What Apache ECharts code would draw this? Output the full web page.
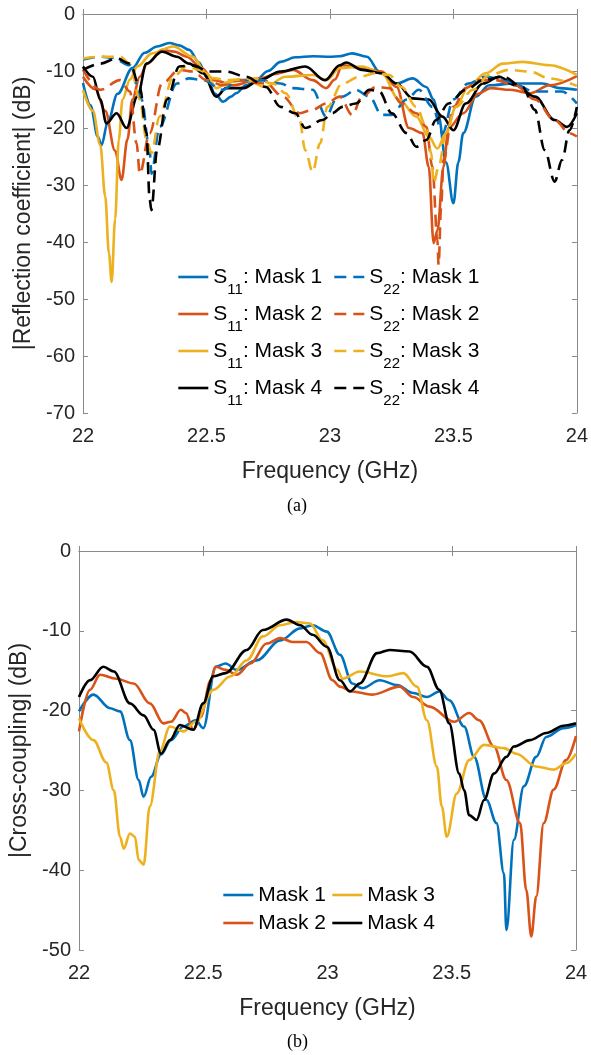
<!DOCTYPE html>
<html>
<head>
<meta charset="utf-8">
<script src="https://cdn.jsdelivr.net/npm/echarts@6/dist/echarts.min.js"></script>
<style>
  html, body { margin: 0; padding: 0; background: #fff; }
  #main { width: 591px; height: 1055px; }
</style>
</head>
<body>
<div id="main"></div>
<script>
// (a) reflection coefficient, [GHz, dB]
const s11Mask1 = [[22.0,-12.1],[22.03,-16],[22.06,-21.5],[22.075,-23],[22.1,-19],[22.14,-14],[22.2,-9.5],[22.25,-6.8],[22.3,-5.7],[22.35,-5.1],[22.39,-5.5],[22.43,-6.3],[22.47,-8.5],[22.5,-11],[22.535,-14],[22.567,-15.4],[22.6,-14.5],[22.62,-13.9],[22.66,-12.5],[22.7,-11.6],[22.75,-10],[22.8,-8.4],[22.86,-7.6],[22.93,-7.4],[23.0,-7.5],[23.04,-7.4],[23.09,-6.9],[23.15,-7.5],[23.2,-10.1],[23.27,-12.2],[23.335,-11.3],[23.39,-12.8],[23.42,-15],[23.44,-18],[23.47,-26],[23.5,-33.2],[23.52,-26],[23.54,-20.9],[23.59,-14.5],[23.645,-12.5],[23.75,-12.2],[23.86,-12.2],[23.93,-13],[24.0,-13.3]];
const s11Mask2 = [[22.0,-11],[22.05,-13.2],[22.09,-17],[22.13,-24],[22.156,-29.1],[22.18,-22],[22.2,-15],[22.23,-11],[22.26,-8.7],[22.32,-6.3],[22.37,-6.6],[22.42,-7.5],[22.48,-9.5],[22.53,-11.6],[22.61,-12.5],[22.72,-11.3],[22.78,-10.5],[22.85,-9.8],[22.93,-11.6],[22.985,-13],[23.02,-11.5],[23.05,-9],[23.13,-9.5],[23.21,-10.1],[23.27,-12.8],[23.32,-20],[23.375,-20.9],[23.4,-26.8],[23.42,-40.2],[23.435,-38],[23.46,-26.8],[23.48,-20],[23.54,-17.4],[23.6,-14],[23.65,-13],[23.73,-13.3],[23.81,-13.9],[23.89,-12.5],[24.0,-10.9]];
const s11Mask3 = [[22.0,-13.3],[22.04,-17],[22.07,-23],[22.09,-32],[22.105,-42],[22.116,-47],[22.13,-36],[22.145,-22],[22.16,-15],[22.19,-11.5],[22.22,-9.2],[22.28,-6.9],[22.365,-5.7],[22.445,-7.5],[22.5,-10.4],[22.54,-13],[22.59,-11.9],[22.66,-11.6],[22.74,-12.8],[22.82,-11],[22.93,-10.7],[22.985,-11.6],[23.04,-9.5],[23.13,-9.2],[23.21,-10.4],[23.28,-15],[23.35,-18],[23.4,-21.5],[23.435,-23.6],[23.47,-20.9],[23.51,-16.3],[23.56,-12.8],[23.63,-10.4],[23.7,-8.7],[23.78,-8.4],[23.89,-9],[24.0,-10.7]];
const s11Mask4 = [[22.0,-9.2],[22.04,-11],[22.07,-15],[22.095,-19.2],[22.136,-17.4],[22.176,-20],[22.22,-14.5],[22.257,-8.7],[22.32,-6.6],[22.38,-7.5],[22.43,-8.7],[22.486,-10.4],[22.54,-14.5],[22.58,-13],[22.65,-13],[22.715,-11.6],[22.8,-10.1],[22.9,-9.2],[22.98,-11.6],[23.04,-9],[23.065,-8.5],[23.13,-9.8],[23.21,-10.4],[23.27,-12.2],[23.335,-14.8],[23.4,-15],[23.456,-18],[23.5,-20.4],[23.55,-15.7],[23.62,-12.2],[23.685,-11],[23.75,-12.5],[23.83,-14.5],[23.91,-18.6],[23.96,-19.8],[24.0,-17.4]];
const s22Mask1 = [[22.0,-8],[22.07,-7.5],[22.12,-7.7],[22.19,-9],[22.237,-15],[22.27,-23.9],[22.277,-28],[22.31,-19.8],[22.38,-12.2],[22.43,-11.3],[22.486,-11.6],[22.565,-13.3],[22.63,-11.6],[22.715,-11.6],[22.8,-12.2],[22.85,-13],[22.93,-13.3],[22.985,-18],[23.025,-15],[23.05,-14.5],[23.105,-13.3],[23.16,-14.5],[23.21,-17.7],[23.25,-17.7],[23.31,-15],[23.36,-13.3],[23.415,-16.3],[23.456,-20.9],[23.5,-15],[23.56,-12.2],[23.63,-11],[23.725,-11.9],[23.83,-13.6],[23.94,-13.6],[24.0,-15.7]];
const s22Mask2 = [[22.0,-9.8],[22.07,-13.3],[22.15,-11.6],[22.19,-13.6],[22.217,-22.7],[22.23,-28],[22.27,-20.9],[22.32,-12.2],[22.39,-9.8],[22.445,-10.1],[22.5,-11.6],[22.567,-12.5],[22.63,-11.6],[22.74,-12.2],[22.81,-14.5],[22.877,-17.4],[22.93,-16.8],[22.985,-15.7],[23.04,-14.5],[23.09,-17.7],[23.13,-14.5],[23.186,-12.8],[23.24,-13],[23.29,-15.7],[23.35,-17.4],[23.39,-19.8],[23.415,-26.8],[23.435,-39.6],[23.44,-44],[23.45,-34],[23.46,-25.6],[23.5,-16.3],[23.55,-13],[23.6,-11.6],[23.67,-11.6],[23.75,-12.5],[23.83,-15],[23.91,-18.6],[23.97,-20.9],[24.0,-21.5]];
const s22Mask3 = [[22.0,-7.8],[22.07,-7.5],[22.15,-7.5],[22.19,-8.7],[22.23,-15],[22.257,-22],[22.277,-24.4],[22.31,-18],[22.365,-11],[22.42,-9.2],[22.47,-9.8],[22.53,-11.3],[22.59,-11.6],[22.69,-11.3],[22.77,-12.2],[22.82,-13.9],[22.877,-18.6],[22.9,-23.9],[22.93,-27.7],[22.96,-22.7],[22.99,-16.3],[23.05,-12.2],[23.12,-11],[23.186,-10.4],[23.24,-10.7],[23.29,-12.8],[23.35,-16.3],[23.39,-19.8],[23.41,-24.4],[23.42,-29.7],[23.44,-26.8],[23.47,-20.9],[23.51,-16.3],[23.58,-13.3],[23.645,-10.7],[23.725,-9.8],[23.81,-10.1],[23.89,-11.3],[24.0,-12.6]];
const s22Mask4 = [[22.0,-9.8],[22.07,-8.7],[22.136,-7.8],[22.19,-8.7],[22.23,-12.8],[22.257,-20.9],[22.27,-32.6],[22.277,-34.4],[22.3,-23.9],[22.34,-15],[22.39,-9.2],[22.445,-9],[22.51,-10.1],[22.58,-10.1],[22.66,-11],[22.74,-12.8],[22.8,-16.3],[22.86,-17.4],[22.9,-20],[22.97,-18.6],[23.01,-17.4],[23.05,-16.3],[23.105,-15.7],[23.16,-13.3],[23.2,-13.6],[23.25,-17.4],[23.31,-20.9],[23.35,-23.3],[23.39,-22.1],[23.43,-18.6],[23.48,-15.7],[23.55,-13.3],[23.62,-11.6],[23.7,-11],[23.78,-12.8],[23.83,-16.8],[23.87,-23.9],[23.91,-29.4],[23.94,-25.6],[23.97,-20.4],[24.0,-16.3]];

// (b) cross-coupling, [GHz, dB]
const ccMask1 = [[22.0,-20.1],[22.058,-18],[22.125,-19.7],[22.165,-20.1],[22.205,-23.7],[22.24,-28.7],[22.26,-30.8],[22.29,-28.3],[22.33,-25.5],[22.37,-23.7],[22.42,-22],[22.47,-21.2],[22.5,-22.2],[22.55,-14.5],[22.59,-14.1],[22.635,-14.9],[22.715,-13.7],[22.81,-11.2],[22.89,-9.7],[22.94,-9.3],[22.997,-10.1],[23.05,-13],[23.1,-16.6],[23.14,-17.2],[23.21,-16.2],[23.28,-16.8],[23.345,-17.8],[23.4,-18.3],[23.45,-17.6],[23.49,-18.7],[23.55,-22],[23.59,-25.8],[23.64,-31.2],[23.68,-34.1],[23.71,-40.4],[23.72,-47.5],[23.75,-36.2],[23.79,-29.5],[23.84,-25.8],[23.88,-23.3],[23.95,-22.2],[24.0,-21.8]];
const ccMask2 = [[22.0,-22.6],[22.044,-17.4],[22.085,-15.5],[22.15,-16],[22.22,-16.6],[22.285,-19.1],[22.34,-21.6],[22.37,-21.4],[22.41,-19.9],[22.43,-20.3],[22.46,-22.4],[22.49,-20.8],[22.53,-16.2],[22.55,-14.5],[22.59,-14.9],[22.635,-15.5],[22.69,-14.1],[22.755,-11.6],[22.81,-10.9],[22.86,-11.4],[22.915,-11.4],[22.97,-12.8],[23.02,-16.2],[23.05,-17],[23.1,-17.6],[23.18,-18],[23.29,-17],[23.345,-18.3],[23.41,-19.5],[23.51,-21.4],[23.57,-20.3],[23.61,-21.2],[23.67,-24.5],[23.72,-28.7],[23.775,-34.1],[23.8,-42.5],[23.82,-48.3],[23.84,-43.3],[23.87,-34.1],[23.91,-29.9],[23.96,-26.2],[24.0,-23.2]];
const ccMask3 = [[22.0,-21],[22.058,-23.7],[22.11,-26.5],[22.14,-30],[22.165,-35.8],[22.18,-37.3],[22.205,-35.4],[22.225,-35.8],[22.24,-38.7],[22.26,-39.3],[22.285,-32],[22.326,-25],[22.366,-22],[22.42,-22.6],[22.47,-21.4],[22.54,-17.4],[22.61,-15.7],[22.675,-13.7],[22.74,-10.7],[22.81,-9.3],[22.876,-8.9],[22.93,-9.1],[22.98,-11.2],[23.04,-14.9],[23.06,-16],[23.13,-15.1],[23.24,-15.7],[23.305,-15.3],[23.36,-17],[23.4,-21.2],[23.44,-27],[23.46,-32],[23.48,-35.8],[23.52,-30.4],[23.57,-26.2],[23.63,-24.3],[23.71,-24.7],[23.76,-25.4],[23.84,-27],[23.91,-27.4],[23.96,-26.6],[24.0,-25.4]];
const ccMask4 = [[22.0,-18.3],[22.044,-16.2],[22.098,-14.5],[22.14,-15.1],[22.205,-19.1],[22.26,-20.6],[22.3,-22.4],[22.33,-25.4],[22.366,-23.7],[22.406,-21.8],[22.46,-22.4],[22.5,-19.1],[22.54,-15.7],[22.59,-15.3],[22.675,-12.4],[22.74,-9.9],[22.836,-8.6],[22.89,-9.3],[22.94,-10.5],[22.997,-12],[23.05,-16.2],[23.09,-17.6],[23.13,-16.6],[23.2,-12.8],[23.25,-12.4],[23.33,-12.6],[23.4,-14.5],[23.45,-17.4],[23.49,-21.6],[23.53,-27.9],[23.55,-30],[23.57,-33.1],[23.6,-33.7],[23.63,-31.2],[23.67,-27.9],[23.72,-25.8],[23.75,-24.5],[23.815,-23.7],[23.88,-22.8],[23.95,-21.9],[24.0,-21.6]];

const xTicks = [22, 22.5, 23, 23.5, 24];
const colors = ["#0072BD", "#D95319", "#EDB120", "#000000"];
const font = "Liberation Sans";
const axisGray = "#8a8a8a";
const textColor = "#262626";
const dash = [12, 7];

let chartDom = document.getElementById("main");
let myChart = echarts.init(chartDom, null, { renderer: "canvas" });

function xAxisCfg(grid, showLabel, name) {
  return {
    type: "value", gridIndex: grid, min: xTicks[0], max: xTicks[xTicks.length - 1], interval: 0.5,
    position: showLabel ? "bottom" : "top",
    name: showLabel ? name : "", nameLocation: "middle", nameGap: 47,
    nameTextStyle: { fontFamily: font, fontSize: 23, color: textColor },
    axisLine: { show: true, lineStyle: { color: axisGray, width: 1 } },
    axisTick: { show: true, inside: true, length: 5, lineStyle: { color: axisGray } },
    axisLabel: { show: showLabel, margin: 13, fontFamily: font, fontSize: 20, color: textColor },
    splitLine: { show: false },
  };
}
function yAxisCfg(grid, min, showLabel, name, gap) {
  return {
    type: "value", gridIndex: grid, min: min, max: 0, interval: 10,
    position: showLabel ? "left" : "right",
    name: showLabel ? name : "", nameLocation: "middle", nameGap: gap,
    nameTextStyle: { fontFamily: font, fontSize: 23, color: textColor },
    axisLine: { show: true, lineStyle: { color: axisGray, width: 1 } },
    axisTick: { show: true, inside: true, length: 5, lineStyle: { color: axisGray } },
    axisLabel: { show: showLabel, margin: 8, fontFamily: font, fontSize: 20, color: textColor },
    splitLine: { show: false },
  };
}
function lineSeries(name, data, color, dashed, grid) {
  return {
    name: name, type: "line", xAxisIndex: grid, yAxisIndex: grid, data: data,
    symbol: "none", smooth: 0.35, smoothMonotone: "x",
    lineStyle: { color: color, width: 2.6, type: dashed ? dash : "solid" },
    itemStyle: { color: color },
  };
}

const subRich = {
  a: { fontFamily: font, fontSize: 21, color: "#000", lineHeight: 40 },
  b: { fontFamily: font, fontSize: 15, color: "#000", lineHeight: 15, verticalAlign: "bottom" },
};
function subFormatter(name) {
  const m = name.match(/^S(\d\d)(.*)$/);
  return "{a|S}{b|" + m[1] + "}{a|" + m[2] + "}";
}
function legendCfg(names, left, top, gap, rich, dashed) {
  const cfg = {
    orient: "vertical", left: left, top: top, padding: 0, itemGap: gap,
    itemWidth: 30, itemHeight: 14, data: names,
    itemStyle: { opacity: 0 },
    lineStyle: { width: 2.6, type: dashed ? dash : "solid" },
    textStyle: { fontFamily: font, fontSize: 21, color: "#000", lineHeight: 24 },
  };
  if (rich) {
    cfg.formatter = subFormatter;
    cfg.textStyle.rich = subRich;
    cfg.textStyle.lineHeight = 40;
  }
  return cfg;
}

let option = {
  animation: false,
  backgroundColor: "#fff",
  grid: [
    { left: 83, top: 14, width: 495, height: 399 },
    { left: 79, top: 551, width: 497, height: 399 },
  ],
  xAxis: [
    xAxisCfg(0, true, "Frequency (GHz)"),
    xAxisCfg(1, true, "Frequency (GHz)"),
    xAxisCfg(0, false, ""),
    xAxisCfg(1, false, ""),
  ],
  yAxis: [
    yAxisCfg(0, -70, true, "|Reflection coefficient| (dB)", 45),
    yAxisCfg(1, -50, true, "|Cross-coupling| (dB)", 47),
    yAxisCfg(0, -70, false, "", 0),
    yAxisCfg(1, -50, false, "", 0),
  ],
  legend: [
    legendCfg(["S11: Mask 1", "S11: Mask 2", "S11: Mask 3", "S11: Mask 4"], 177, 257, -3, true, false),
    legendCfg(["S22: Mask 1", "S22: Mask 2", "S22: Mask 3", "S22: Mask 4"], 333, 257, -3, true, true),
    legendCfg(["Mask 1", "Mask 2"], 222, 883, 4, false, false),
    legendCfg(["Mask 3", "Mask 4"], 331, 883, 4, false, false),
  ],
  graphic: [
    { type: "text", left: 287, top: 497, style: { text: "(a)", font: "18px 'Liberation Serif'", fill: "#000" } },
    { type: "text", left: 287, top: 1033, style: { text: "(b)", font: "18px 'Liberation Serif'", fill: "#000" } },
  ],
  series: [
    lineSeries("S11: Mask 1", s11Mask1, colors[0], false, 0),
    lineSeries("S11: Mask 2", s11Mask2, colors[1], false, 0),
    lineSeries("S11: Mask 3", s11Mask3, colors[2], false, 0),
    lineSeries("S11: Mask 4", s11Mask4, colors[3], false, 0),
    lineSeries("S22: Mask 1", s22Mask1, colors[0], true, 0),
    lineSeries("S22: Mask 2", s22Mask2, colors[1], true, 0),
    lineSeries("S22: Mask 3", s22Mask3, colors[2], true, 0),
    lineSeries("S22: Mask 4", s22Mask4, colors[3], true, 0),
    lineSeries("Mask 1", ccMask1, colors[0], false, 1),
    lineSeries("Mask 2", ccMask2, colors[1], false, 1),
    lineSeries("Mask 3", ccMask3, colors[2], false, 1),
    lineSeries("Mask 4", ccMask4, colors[3], false, 1),
  ],
};

option && myChart.setOption(option);
</script>
</body>
</html>
